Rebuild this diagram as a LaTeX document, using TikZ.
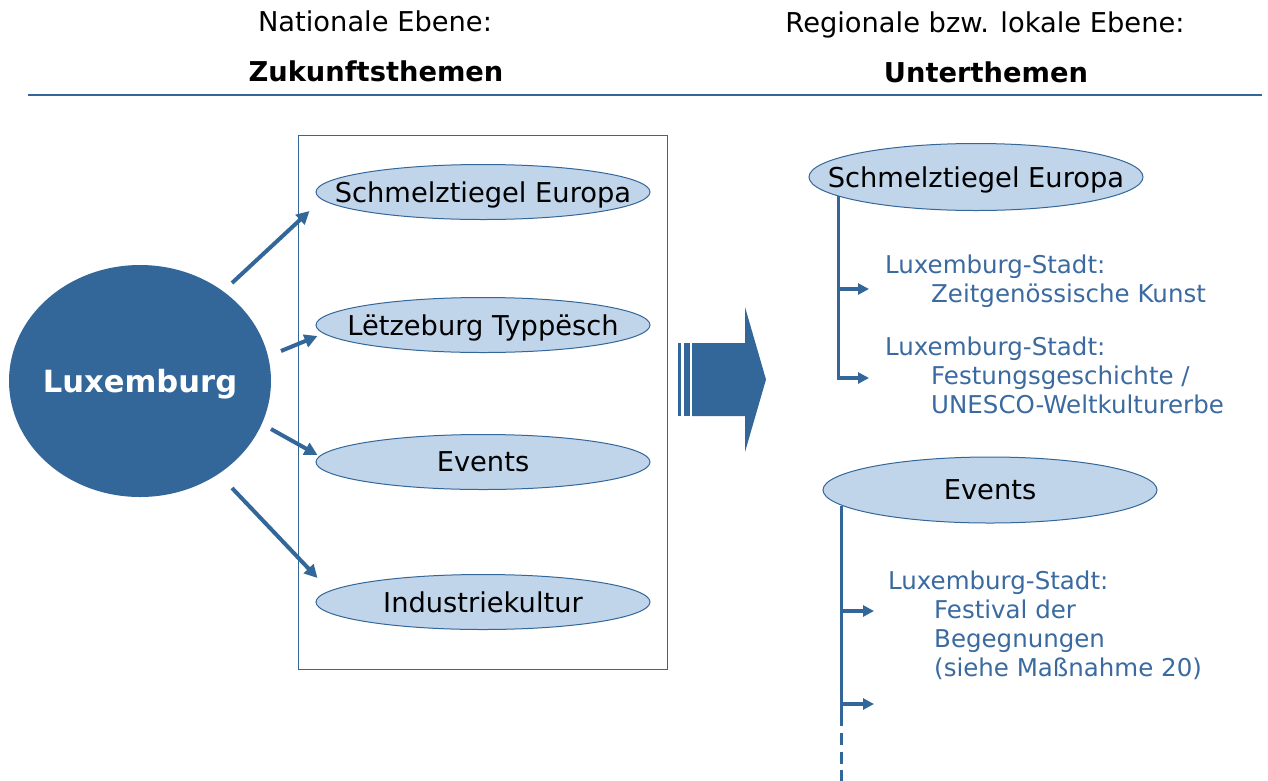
\documentclass[tikz,border=0pt]{standalone}
\usepackage{fontspec}
\setmainfont{DejaVu Sans}
\usetikzlibrary{arrows.meta,shapes.geometric}
\definecolor{luxblue}{RGB}{52,103,153}
\definecolor{lightfill}{RGB}{192,212,234}
\definecolor{subtext}{RGB}{58,106,160}
\begin{document}
\begin{tikzpicture}[x=1pt,y=-1pt,
  flat/.style={text depth=0pt,execute at begin node={\hbox to 0pt\bgroup\hss},execute at end node={\hss\egroup}},
  theme/.style={ellipse,flat,draw=luxblue,line width=1pt,fill=lightfill,minimum width=334pt,minimum height=55pt,inner sep=0pt,font=\fontsize{27.3}{32}\selectfont},
  pointer/.style={-{Triangle[length=13pt,width=13pt]},line width=4pt,luxblue},
  branch/.style={-{Triangle[length=11pt,width=11pt]},line width=3.5pt,luxblue},
  spine/.style={line width=3.5pt,luxblue},
  subitem/.style={anchor=north west,align=left,inner sep=0pt,text=subtext,font=\fontsize{24.5}{29}\selectfont},
  header/.style={anchor=base,font=\fontsize{27.3}{32}\selectfont}]
  \useasboundingbox (0,0) rectangle (1268,780);
  % headings
  \node[header] (nat) at (375,31) {Nationale Ebene:};
  \node[header,font=\fontsize{27.3}{32}\selectfont\bfseries] (natsub) at (376,81) {Zukunftsthemen};
  \node[header] (reg) at (985,32) {Regionale bzw. lokale Ebene:};
  \node[header,font=\fontsize{27.3}{32}\selectfont\bfseries] (regsub) at (986,82) {Unterthemen};
  \draw[luxblue,line width=1.2pt] (28,95) -- (1262,95);

  % national level
  \node[ellipse,flat,fill=luxblue,minimum width=262pt,minimum height=232pt,inner sep=0pt,text=white,
    font=\fontsize{30.6}{36}\selectfont\bfseries] (lux) at (140,381) {Luxemburg};
  \node[draw=luxblue,line width=1pt,minimum width=369pt,minimum height=534pt,inner sep=0pt] (box) at (482.5,402) {};
  \node[theme] (s1) at (483,192) {Schmelztiegel Europa};
  \node[theme] (s2) at (483,325) {Lëtzeburg Typpësch};
  \node[theme] (s3) at (483,462) {Events};
  \node[theme] (s4) at (483,602) {Industriekultur};
  \draw[pointer] ([shift={(92,-98)}]lux.center) -- ([shift={(-6,19)}]s1.west);
  \draw[pointer] ([shift={(141,-30)}]lux.center) -- ([shift={(2,11)}]s2.west);
  \draw[pointer] ([shift={(131,48)}]lux.center) -- ([shift={(2,-7)}]s3.west);
  \draw[pointer] ([shift={(92,107)}]lux.center) -- ([shift={(2,-24)}]s4.west);

  % block arrow
  \fill[luxblue] (678,343) rectangle (681,416);
  \fill[luxblue] (684,343) rectangle (690,416);
  \fill[luxblue] (692,343) -- (745,343) -- (745,307) -- (766,379.5) -- (745,452) -- (745,416) -- (692,416) -- cycle;

  % regional level
  \node[theme,minimum height=67pt] (r1) at (976,177) {Schmelztiegel Europa};
  \node[theme,minimum height=66pt] (r2) at (990,490) {Events};

  \node[subitem] (k1) at (885,254.4) {Luxemburg-Stadt:\\\hspace*{46pt}Zeitgenössische Kunst};
  \node[subitem] (k2) at (885,336.4) {Luxemburg-Stadt:\\\hspace*{46pt}Festungsgeschichte /\\\hspace*{46pt}UNESCO-Weltkulturerbe};
  \node[subitem] (k3) at (888,570.4) {Luxemburg-Stadt:\\\hspace*{46pt}Festival der\\\hspace*{46pt}Begegnungen\\\hspace*{46pt}(siehe Maßnahme 20)};

  \coordinate (a1) at (869,289);
  \coordinate (a2) at (869,378);
  \draw[branch] (r1.188) |- (a2);
  \draw[branch] (r1.188 |- a1) -- (a1);

  \coordinate (b1) at (874,611);
  \coordinate (b2) at (874,704);
  \coordinate (e0) at (r2.186 |- 0,726);
  \coordinate (e1) at (r2.186 |- 0,781);
  \draw[spine] (r2.186) -- (e0);
  \draw[spine,dash pattern=on 12pt off 6.5pt] ([yshift=-7pt]e0) -- (e1);
  \draw[branch] (r2.186 |- b1) -- (b1);
  \draw[branch] (r2.186 |- b2) -- (b2);
\end{tikzpicture}
\end{document}
